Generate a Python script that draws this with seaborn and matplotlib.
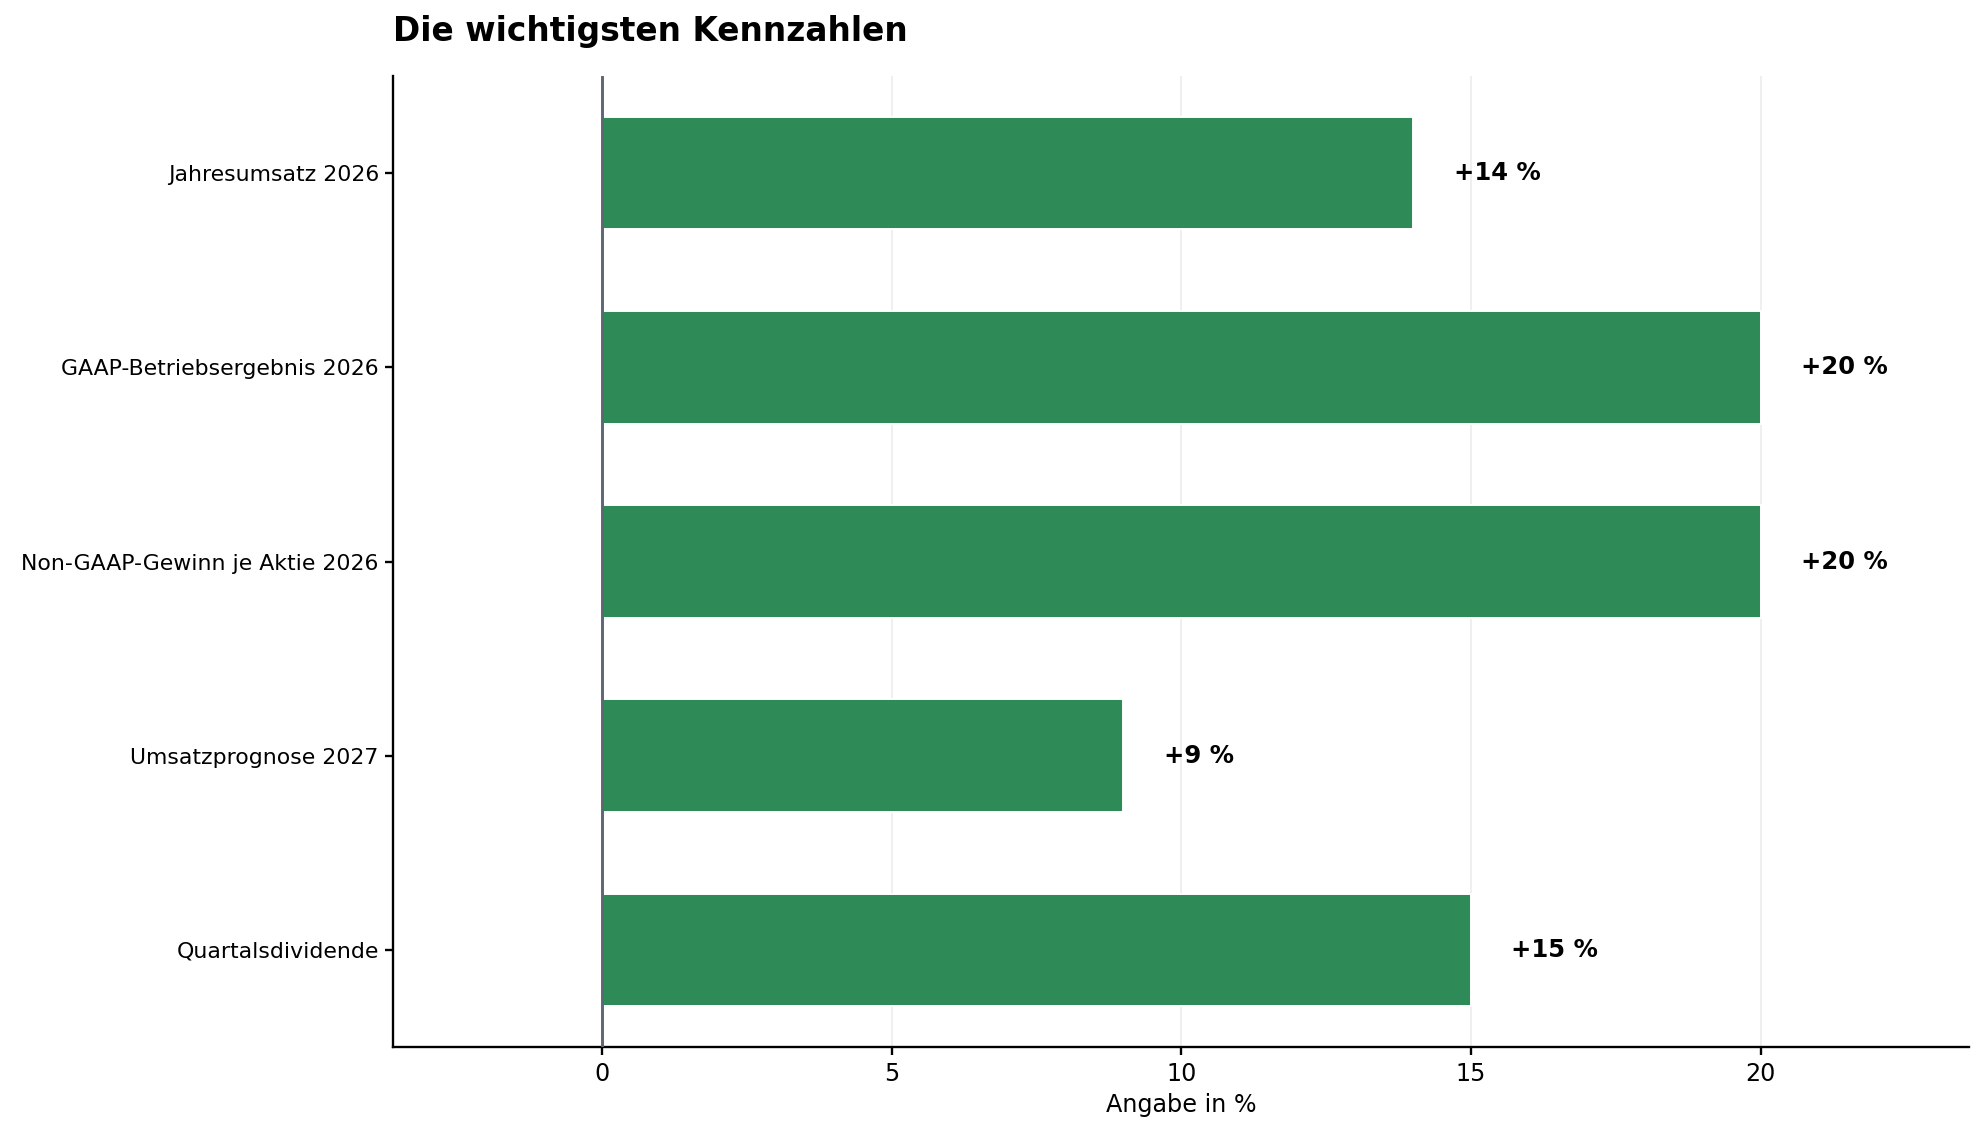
import pandas as pd
import matplotlib
matplotlib.use("Agg")
import matplotlib.pyplot as plt
import seaborn as sns

kennzahlen = [
    "Jahresumsatz 2026",
    "GAAP-Betriebsergebnis 2026",
    "Non-GAAP-Gewinn je Aktie 2026",
    "Umsatzprognose 2027",
    "Quartalsdividende",
]
veraenderung = [14, 20, 20, 9, 15]
beschriftung = ["+14 %", "+20 %", "+20 %", "+9 %", "+15 %"]

df = pd.DataFrame({"kennzahl": kennzahlen, "wert": veraenderung})

sns.set_style("white")
plt.rcParams["font.family"] = ["DejaVu Sans"]
plt.rcParams["text.color"] = "black"
plt.rcParams["axes.labelcolor"] = "black"
plt.rcParams["xtick.color"] = "black"
plt.rcParams["ytick.color"] = "black"

fig, ax = plt.subplots(figsize=(1982 / 140, 1135 / 140), dpi=140)
fig.subplots_adjust(left=0.1985, right=0.9935, top=0.933, bottom=0.0775)

sns.barplot(data=df, y="kennzahl", x="wert", color="#2e8b57", saturation=1,
            width=0.58, orient="h", ax=ax)

ax.set_xlim(-3.6, 23.6)
ax.axvline(0, color="#5f6673", linewidth=1.5, zorder=3)
ax.set_xticks([0, 5, 10, 15, 20])
ax.grid(axis="x", color="#ebebeb", linewidth=0.8)
ax.set_axisbelow(True)

for i, (v, txt) in enumerate(zip(veraenderung, beschriftung)):
    ax.text(v + 0.7, i, txt, va="center", ha="left", fontsize=12.5,
            fontweight="bold", color="black")

sns.despine(ax=ax)
for s in ["left", "bottom"]:
    ax.spines[s].set_color("black")
    ax.spines[s].set_linewidth(1.2)

ax.tick_params(axis="y", labelsize=11.3, left=True, length=4, width=1.2)
ax.tick_params(axis="x", labelsize=12.3, bottom=True, length=4, width=1.2)
ax.set_ylabel("")
ax.set_xlabel("Angabe in %", fontsize=12.3)
ax.set_title("Die wichtigsten Kennzahlen", loc="left", fontsize=16.9,
             fontweight="bold", pad=18, color="black")

fig.savefig("out.png", dpi=140)
